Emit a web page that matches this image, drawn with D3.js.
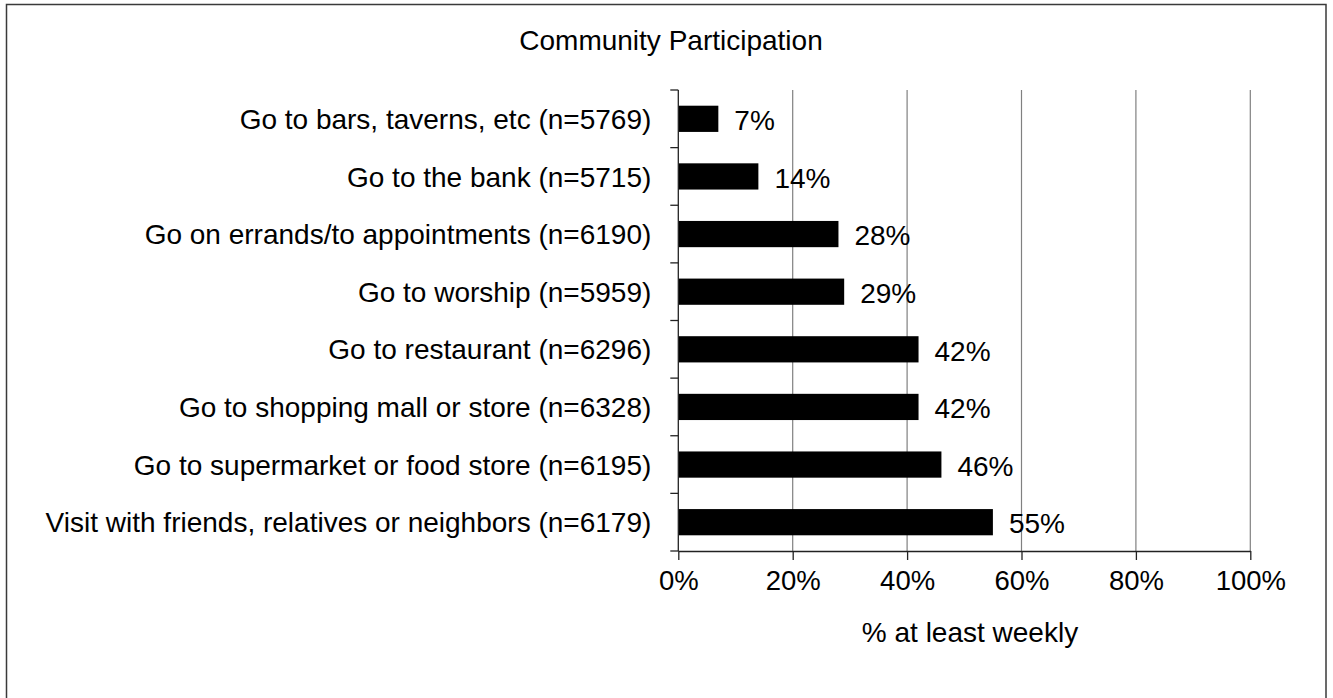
<!DOCTYPE html>
<html>
<head>
<meta charset="utf-8">
<script src="https://cdn.jsdelivr.net/npm/d3@7"></script>
<style>
  html, body { margin: 0; padding: 0; background: #fff; }
  svg { display: block; }
  text { font-family: Arial, "Liberation Sans", sans-serif; fill: #000; }
</style>
</head>
<body>
<svg id="chart" width="1333" height="698"></svg>
<script>
// Community participation: share of respondents doing each activity at least weekly
const categories = [
  "Go to bars, taverns, etc (n=5769)",
  "Go to the bank (n=5715)",
  "Go on errands/to appointments (n=6190)",
  "Go to worship (n=5959)",
  "Go to restaurant (n=6296)",
  "Go to shopping mall or store (n=6328)",
  "Go to supermarket or food store (n=6195)",
  "Visit with friends, relatives or neighbors (n=6179)"
];
const values = [7, 14, 28, 29, 42, 42, 46, 55];
const xTicks = [0, 20, 40, 60, 80, 100];

const title = "Community Participation";
const xTitle = "% at least weekly";

const svg = d3.select("#chart");
const plot = { left: 678.3, right: 1250.3, top: 90, bottom: 551 };
const fontSize = 28;
const tickFontSize = 27.5;

// outer frame (bottom edge runs past the canvas)
svg.append("rect")
  .attr("x", 6.5).attr("y", 4.5)
  .attr("width", 1319.5).attr("height", 720)
  .attr("fill", "#fff")
  .attr("stroke", "#3a3a3a")
  .attr("stroke-width", 1.5);

const x = d3.scaleLinear().domain([0, 100]).range([plot.left, plot.right]);
const y = d3.scaleBand().domain(categories).range([plot.top, plot.bottom]).padding(0);
const barH = y.bandwidth() * 0.455;

// vertical gridlines
svg.append("g")
  .selectAll("line")
  .data(xTicks.filter(d => d > 0))
  .join("line")
  .attr("x1", d => x(d)).attr("x2", d => x(d))
  .attr("y1", plot.top).attr("y2", plot.bottom)
  .attr("stroke", "#808080")
  .attr("stroke-width", 1.2);

// bars
svg.append("g")
  .selectAll("rect")
  .data(values)
  .join("rect")
  .attr("x", x(0))
  .attr("y", (d, i) => y(categories[i]) + (y.bandwidth() - barH) / 2)
  .attr("width", d => x(d) - x(0))
  .attr("height", barH)
  .attr("fill", "#000");

// value labels
svg.append("g")
  .selectAll("text")
  .data(values)
  .join("text")
  .attr("x", d => x(d) + 16)
  .attr("y", (d, i) => y(categories[i]) + y.bandwidth() / 2)
  .attr("dy", "0.4em")
  .style("font-size", fontSize + "px")
  .text(d => d + "%");

// x axis
const xAxis = d3.axisBottom(x)
  .tickValues(xTicks)
  .tickFormat(d => d + "%")
  .tickSize(9)
  .tickPadding(10)
  .tickSizeOuter(0);
const gx = svg.append("g")
  .attr("transform", `translate(0,${plot.bottom})`)
  .call(xAxis);
gx.select(".domain").attr("stroke", "#222").attr("stroke-width", 1.3);
gx.selectAll(".tick line").attr("stroke", "#222").attr("stroke-width", 1.3);
gx.selectAll(".tick text")
  .attr("fill", "#000")
  .style("font-family", "Arial, 'Liberation Sans', sans-serif")
  .style("font-size", tickFontSize + "px");

// y axis: ticks sit on the category boundaries
const boundaries = d3.range(categories.length + 1).map(i => plot.top + i * y.step());
const gy = svg.append("g");
gy.append("line")
  .attr("x1", plot.left).attr("x2", plot.left)
  .attr("y1", plot.top).attr("y2", plot.bottom)
  .attr("stroke", "#222").attr("stroke-width", 1.3);
gy.selectAll("line.tk")
  .data(boundaries)
  .join("line")
  .attr("class", "tk")
  .attr("x1", plot.left - 8).attr("x2", plot.left)
  .attr("y1", d => d).attr("y2", d => d)
  .attr("stroke", "#222").attr("stroke-width", 1.3);
gy.selectAll("text")
  .data(categories)
  .join("text")
  .attr("x", plot.left - 27)
  .attr("y", d => y(d) + y.bandwidth() / 2)
  .attr("dy", "0.36em")
  .attr("text-anchor", "end")
  .style("font-size", fontSize + "px")
  .text(d => d);

// titles
svg.append("text")
  .attr("x", 671).attr("y", 50)
  .attr("text-anchor", "middle")
  .style("font-size", fontSize + "px")
  .text(title);

svg.append("text")
  .attr("x", 970).attr("y", 642)
  .attr("text-anchor", "middle")
  .style("font-size", fontSize + "px")
  .text(xTitle);
</script>
</body>
</html>
